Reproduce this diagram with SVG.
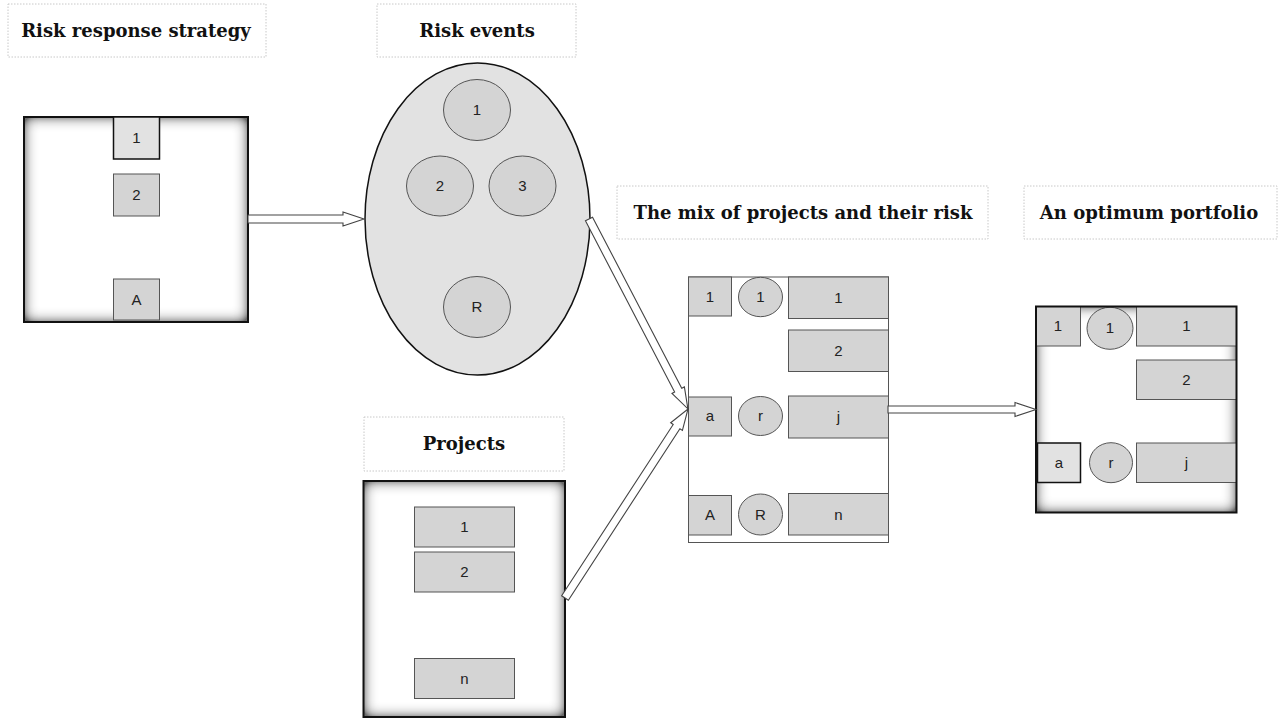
<svg xmlns="http://www.w3.org/2000/svg" width="1279" height="719" viewBox="0 0 1279 719">
<style>
.title{font-family:"DejaVu Serif","Liberation Serif",serif;font-weight:bold;font-size:18px;fill:#111;text-anchor:middle}
.tbox{fill:none;stroke:#c8c8c8;stroke-width:1;stroke-dasharray:1.5 1.5}
.lbl{font-family:"Liberation Sans","DejaVu Sans",sans-serif;font-size:15px;fill:#222;text-anchor:middle}
.cell{fill:#d4d4d4;stroke:#555;stroke-width:1}
.cellhi{fill:#e2e2e2;stroke:#111;stroke-width:1.5}
.circ{fill:#d4d4d4;stroke:#555;stroke-width:1}
.frame{fill:none;stroke:#111;stroke-width:2}
.arrow{fill:#fff;stroke:#444;stroke-width:1.1;stroke-linejoin:miter}
</style>
<defs>
<filter id="inset" x="-15%" y="-15%" width="130%" height="130%">
<feComponentTransfer in="SourceAlpha" result="inv"><feFuncA type="table" tableValues="1 0"/></feComponentTransfer>
<feGaussianBlur in="inv" stdDeviation="7" result="blur"/>
<feComponentTransfer in="blur" result="boost"><feFuncA type="linear" slope="1.7" intercept="0"/></feComponentTransfer>
<feFlood flood-color="#000" flood-opacity="0.85"/>
<feComposite in2="boost" operator="in" result="sh"/>
<feComposite in="sh" in2="SourceAlpha" operator="in" result="inner"/>
<feMerge><feMergeNode in="SourceGraphic"/><feMergeNode in="inner"/></feMerge>
</filter>
</defs>
<rect width="1279" height="719" fill="#fff"/>

<g id="title-strategy">
<rect class="tbox" x="8" y="4" width="258" height="53"/>
<text class="title" x="136" y="37">Risk response strategy</text>
</g>
<g id="title-events">
<rect class="tbox" x="377" y="4" width="199" height="53"/>
<text class="title" x="477" y="37">Risk events</text>
</g>
<g id="title-mix">
<rect class="tbox" x="617" y="186" width="371" height="53"/>
<text class="title" x="803" y="219">The mix of projects and their risk</text>
</g>
<g id="title-optimum">
<rect class="tbox" x="1024" y="186" width="253" height="53"/>
<text class="title" x="1149" y="219">An optimum portfolio</text>
</g>
<g id="title-projects">
<rect class="tbox" x="364" y="417" width="200" height="54"/>
<text class="title" x="464" y="450">Projects</text>
</g>

<g id="strategy">
<rect x="24" y="117" width="224" height="205" fill="#fff" filter="url(#inset)"/>
<rect class="frame" x="24" y="117" width="224" height="205"/>
<rect class="cellhi" x="113.5" y="117" width="46" height="42"/>
<text class="lbl" x="136.5" y="143">1</text>
<rect class="cell" x="113.5" y="174" width="46" height="42"/>
<text class="lbl" x="136.5" y="200">2</text>
<rect class="cell" x="113.5" y="279" width="46" height="41"/>
<text class="lbl" x="136.5" y="305">A</text>
</g>

<g id="events">
<ellipse cx="477.5" cy="219" rx="112.5" ry="156" fill="#e2e2e2" stroke="#111" stroke-width="1.5"/>
<ellipse class="circ" cx="477" cy="110" rx="33.5" ry="30.5"/>
<text class="lbl" x="477" y="115">1</text>
<ellipse class="circ" cx="440" cy="186" rx="33.5" ry="30"/>
<text class="lbl" x="440" y="191">2</text>
<ellipse class="circ" cx="522.5" cy="186" rx="33.5" ry="30"/>
<text class="lbl" x="522.5" y="191">3</text>
<ellipse class="circ" cx="477" cy="307" rx="33.5" ry="30.5"/>
<text class="lbl" x="477" y="312">R</text>
</g>

<g id="projects">
<rect x="363.5" y="481" width="201.5" height="236" fill="#fff" filter="url(#inset)"/>
<rect class="frame" x="363.5" y="481" width="201.5" height="236"/>
<rect class="cell" x="414.5" y="507" width="100" height="40"/>
<text class="lbl" x="464.5" y="532">1</text>
<rect class="cell" x="414.5" y="552" width="100" height="40"/>
<text class="lbl" x="464.5" y="577">2</text>
<rect class="cell" x="414.5" y="658.5" width="100" height="40"/>
<text class="lbl" x="464.5" y="683.5">n</text>
</g>

<g id="mix">
<rect x="688.5" y="277" width="200" height="265.5" fill="#fff" stroke="#555" stroke-width="1"/>
<rect class="cell" x="688.5" y="277" width="43" height="39"/>
<text class="lbl" x="710" y="302">1</text>
<ellipse class="circ" cx="760.5" cy="297" rx="22" ry="19.7"/>
<text class="lbl" x="760.5" y="302">1</text>
<rect class="cell" x="788.5" y="277" width="100" height="41.5"/>
<text class="lbl" x="838.5" y="303">1</text>
<rect class="cell" x="788.5" y="330" width="100" height="41.5"/>
<text class="lbl" x="838.5" y="356">2</text>
<rect class="cell" x="688.5" y="397" width="43" height="39"/>
<text class="lbl" x="710" y="421">a</text>
<ellipse class="circ" cx="760.5" cy="416" rx="22" ry="19.5"/>
<text class="lbl" x="760.5" y="421">r</text>
<rect class="cell" x="788.5" y="396" width="100" height="42"/>
<text class="lbl" x="838.5" y="422">j</text>
<rect class="cell" x="688.5" y="495.5" width="43" height="39.5"/>
<text class="lbl" x="710" y="520">A</text>
<ellipse class="circ" cx="760.5" cy="514.5" rx="22" ry="20.5"/>
<text class="lbl" x="760.5" y="519.5">R</text>
<rect class="cell" x="788.5" y="493.5" width="100" height="41.5"/>
<text class="lbl" x="838.5" y="519.5">n</text>
</g>

<g id="optimum">
<rect x="1036" y="306.5" width="200.5" height="206" fill="#fff" filter="url(#inset)"/>
<rect class="cell" x="1036" y="306.5" width="44.5" height="39.5"/>
<text class="lbl" x="1058" y="331">1</text>
<ellipse class="circ" cx="1110" cy="328.3" rx="23" ry="21"/>
<text class="lbl" x="1110" y="333.3">1</text>
<rect class="cell" x="1136.5" y="306.5" width="100" height="39.5"/>
<text class="lbl" x="1186.5" y="331">1</text>
<rect class="cell" x="1136.5" y="360" width="100" height="39.5"/>
<text class="lbl" x="1186.5" y="385">2</text>
<rect class="cellhi" x="1037.5" y="443" width="43" height="39.5"/>
<text class="lbl" x="1059" y="468">a</text>
<ellipse class="circ" cx="1111" cy="462.7" rx="21.5" ry="20"/>
<text class="lbl" x="1111" y="467.7">r</text>
<rect class="cell" x="1136.5" y="443" width="100" height="39.5"/>
<text class="lbl" x="1186.5" y="468">j</text>
<rect class="frame" x="1036" y="306.5" width="200.5" height="206" stroke="#222"/>
</g>

<g id="connectors">
<path class="arrow" transform="translate(248,219)" d="M0,-4 H95 V-7 L116,0 L95,7 V4 H0 Z"/>
<path class="arrow" transform="translate(589,219) rotate(62.48)" d="M0,-4 H193 V-7 L214,0 L193,7 V4 H0 Z"/>
<path class="arrow" transform="translate(565,598) rotate(-56.94)" d="M0,-4 H204.5 V-7 L225.5,0 L204.5,7 V4 H0 Z"/>
<path class="arrow" transform="translate(888,409.5)" d="M0,-3.5 H127 V-7 L148,0 L127,7 V3.5 H0 Z"/>
</g>
</svg>
